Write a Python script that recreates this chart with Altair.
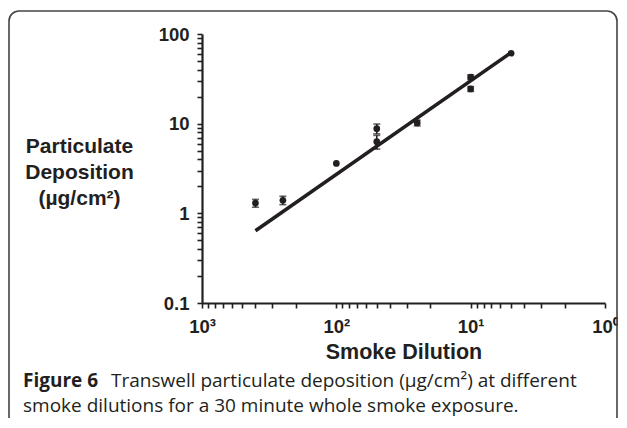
import altair as alt
import pandas as pd

# ---- data ----
dilution = [400, 250, 100, 50, 50, 25, 10, 10, 5]
deposition = [1.3, 1.4, 3.6, 8.8, 6.3, 10.2, 33.0, 24.4, 61.0]
error = [0.13, 0.15, 0.0, 1.1, 1.1, 0.75, 2.0, 1.5, 0.0]

fit_x = [400, 5]
fit_y = [0.64, 62.0]

x_tick_values = [1000, 900, 800, 700, 600, 500, 400, 300, 200,
                 100, 90, 80, 70, 60, 50, 40, 30, 20,
                 10, 9, 8, 7, 6, 5, 4, 3, 2, 1]
y_tick_values = [0.1, 0.2, 0.3, 0.4, 0.5, 0.6, 0.7, 0.8, 0.9,
                 1, 2, 3, 4, 5, 6, 7, 8, 9,
                 10, 20, 30, 40, 50, 60, 70, 80, 90, 100]

caption_bold = ["Figure 6"]
caption_line1 = ["Transwell particulate deposition (µg/cm²) at different"]
caption_line2 = ["smoke dilutions for a 30 minute whole smoke exposure."]

pts = pd.DataFrame({"dil": dilution, "dep": deposition, "err": error})
pts["lo"] = pts["dep"] - pts["err"]
pts["hi"] = pts["dep"] + pts["err"]
errs = pts[pts["err"] > 0]
fit = pd.DataFrame({"dil": fit_x, "dep": fit_y})

INK = "#231f20"
FONT = "Liberation Sans"

xscale = alt.Scale(type="log", domain=[1, 1000], reverse=True, nice=False)
yscale = alt.Scale(type="log", domain=[0.1, 100], nice=False)

x_label_expr = ("datum.value == 1000 ? '10³' : datum.value == 100 ? '10²' : "
                "datum.value == 10 ? '10¹' : datum.value == 1 ? '10⁰' : ''")
y_label_expr = ("datum.value == 0.1 ? '0.1' : datum.value == 1 ? '1' : "
                "datum.value == 10 ? '10' : datum.value == 100 ? '100' : ''")

xaxis = alt.Axis(values=x_tick_values, labelExpr=x_label_expr, title="Smoke Dilution",
                 grid=False, domainColor=INK, domainWidth=2.2, tickColor=INK,
                 tickWidth=1.6, tickSize=5, labelFont=FONT, labelFontSize=18.5,
                 labelFontWeight="bold", labelColor=INK, labelPadding=9,
                 labelOverlap=False, labelFlush=False,
                 titleFont=FONT, titleFontSize=21.5, titleFontWeight="bold",
                 titleColor=INK, titlePadding=6)
yaxis = alt.Axis(values=y_tick_values, labelExpr=y_label_expr,
                 title=["Particulate", "Deposition", "(µg/cm²)"],
                 grid=False, domainColor=INK, domainWidth=2.2, tickColor=INK,
                 tickWidth=1.6, tickSize=5, labelFont=FONT, labelFontSize=18.5,
                 labelFontWeight="bold", labelColor=INK, labelPadding=8,
                 labelOverlap=False, labelFlush=False,
                 titleFont=FONT, titleFontSize=21, titleFontWeight="bold",
                 titleColor=INK, titleAngle=0, titleAlign="center",
                 titleBaseline="middle", titleX=-123, titleY=112, titleLineHeight=26)

base = alt.Chart(pts)

frame = alt.Chart(pd.DataFrame({"k": [0]})).mark_rect(
    fill=None, stroke="#444444", strokeWidth=1.6, cornerRadius=10
).encode(x=alt.value(-193), x2=alt.value(415), y=alt.value(-23), y2=alt.value(392))

line = alt.Chart(fit).mark_line(color=INK, strokeWidth=3.6).encode(
    x=alt.X("dil:Q", scale=xscale, axis=xaxis),
    y=alt.Y("dep:Q", scale=yscale, axis=yaxis),
)

bars = alt.Chart(errs).mark_rule(color=INK, strokeWidth=1.6).encode(
    x=alt.X("dil:Q", scale=xscale),
    y=alt.Y("lo:Q", scale=yscale),
    y2="hi:Q",
)
cap_lo = alt.Chart(errs).mark_tick(color=INK, thickness=1.6, size=7, orient="horizontal").encode(
    x=alt.X("dil:Q", scale=xscale), y=alt.Y("lo:Q", scale=yscale))
cap_hi = alt.Chart(errs).mark_tick(color=INK, thickness=1.6, size=7, orient="horizontal").encode(
    x=alt.X("dil:Q", scale=xscale), y=alt.Y("hi:Q", scale=yscale))

dots = base.mark_point(filled=True, shape="circle", size=45, color=INK, opacity=1).encode(
    x=alt.X("dil:Q", scale=xscale),
    y=alt.Y("dep:Q", scale=yscale),
)

cap_font = "Open Sans"
CAP_SIZE = 19
cap_b = alt.Chart(pd.DataFrame({"t": caption_bold})).mark_text(
    font=cap_font, fontSize=CAP_SIZE, fontWeight="bold", align="left", baseline="middle", color=INK
).encode(x=alt.value(-179), y=alt.value(347), text="t:N")
cap_1 = alt.Chart(pd.DataFrame({"t": caption_line1})).mark_text(
    font=cap_font, fontSize=CAP_SIZE, align="left", baseline="middle", color=INK
).encode(x=alt.value(-91), y=alt.value(347), text="t:N")
cap_2 = alt.Chart(pd.DataFrame({"t": caption_line2})).mark_text(
    font=cap_font, fontSize=CAP_SIZE, align="left", baseline="middle", color=INK
).encode(x=alt.value(-179), y=alt.value(372), text="t:N")

chart = alt.layer(frame, line, bars, cap_lo, cap_hi, dots, cap_b, cap_1, cap_2).properties(
    width=403, height=269,
    autosize=alt.AutoSizeParams(type="none"),
    padding={"left": 194, "top": 26, "right": 13, "bottom": 115},
    background="white",
).configure_view(stroke=None)

chart.save("out.html", embed_options={"renderer": "svg", "actions": False})
